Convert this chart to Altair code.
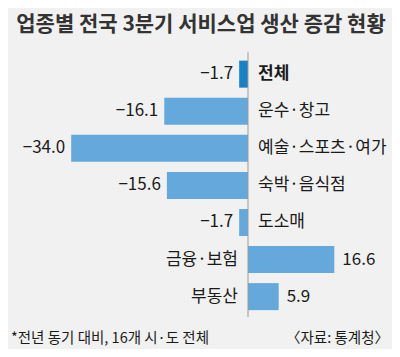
import altair as alt
import pandas as pd

categories = ["전체", "운수·창고", "예술·스포츠·여가", "숙박·음식점", "도소매", "금융·보험", "부동산"]
values = [-1.7, -16.1, -34.0, -15.6, -1.7, 16.6, 5.9]
highlight = [True, False, False, False, False, False, False]

title_text = "업종별 전국 3분기 서비스업 생산 증감 현황"
note_left = "*전년 동기 대비, 16개 시·도 전체"
note_right = "〈자료: 통계청〉"

df = pd.DataFrame({
    "cat": categories,
    "val": values,
    "idx": list(range(len(categories))),
    "hi": highlight,
})
df["label"] = [("−" if v < 0 else "") + f"{abs(v):.1f}" for v in values]

W, H = 384, 341
FONT = "Noto Sans CJK KR"
px_per_unit = 5.2
zero_x = 240
xdom = [-zero_x / px_per_unit, (W - zero_x) / px_per_unit]
row = 38.2
y0 = -63 / row
ydom = [y0, y0 + H / row]

xs = alt.Scale(domain=xdom, nice=False, zero=False)
ys = alt.Scale(domain=ydom, nice=False, zero=False, reverse=True)

base = alt.Chart(df)

bars = base.mark_bar(size=27).encode(
    x=alt.X("val:Q", scale=xs, axis=None),
    x2=alt.datum(0),
    y=alt.Y("idx:Q", scale=ys, axis=None),
    color=alt.Color("hi:N", scale=alt.Scale(domain=[True, False], range=["#1a82c4", "#65a8db"]), legend=None),
)

zero_line = alt.Chart(pd.DataFrame({"z": [0], "a": [-0.6], "b": [6.55]})).mark_rule(color="#999999", strokeWidth=1).encode(
    x=alt.X("z:Q", scale=xs, axis=None),
    y=alt.Y("a:Q", scale=ys, axis=None),
    y2="b:Q",
)

txt = dict(font=FONT, fontSize=17, color="#1a1a1a", baseline="middle")

neg_val = base.transform_filter("datum.val < 0").mark_text(align="right", dx=-6, **txt).encode(
    x=alt.X("val:Q", scale=xs, axis=None), y=alt.Y("idx:Q", scale=ys, axis=None), text="label:N")
pos_val = base.transform_filter("datum.val >= 0").mark_text(align="left", dx=8, **txt).encode(
    x=alt.X("val:Q", scale=xs, axis=None), y=alt.Y("idx:Q", scale=ys, axis=None), text="label:N")
neg_cat = base.transform_filter("datum.val < 0 && !datum.hi").mark_text(align="left", dx=10, **txt).encode(
    x=alt.datum(0, scale=xs), y=alt.Y("idx:Q", scale=ys, axis=None), text="cat:N")
hi_cat = base.transform_filter("datum.hi").mark_text(align="left", dx=10, fontWeight="bold", **txt).encode(
    x=alt.datum(0, scale=xs), y=alt.Y("idx:Q", scale=ys, axis=None), text="cat:N")
pos_cat = base.transform_filter("datum.val >= 0").mark_text(align="right", dx=-10, **txt).encode(
    x=alt.datum(0, scale=xs), y=alt.Y("idx:Q", scale=ys, axis=None), text="cat:N")

title = alt.Chart(pd.DataFrame({"t": [title_text]})).mark_text(
    font=FONT, fontSize=21, fontWeight="bold", color="#333333", align="center", baseline="middle"
).encode(x=alt.value(193), y=alt.value(17), text="t:N")

notes_l = alt.Chart(pd.DataFrame({"t": [note_left]})).mark_text(
    font=FONT, fontSize=14.5, color="#1a1a1a", align="left", baseline="middle"
).encode(x=alt.value(3), y=alt.value(331), text="t:N")
notes_r = alt.Chart(pd.DataFrame({"t": [note_right]})).mark_text(
    font=FONT, fontSize=14.5, color="#1a1a1a", align="right", baseline="middle"
).encode(x=alt.value(W - 3), y=alt.value(331), text="t:N")

chart = alt.layer(bars, zero_line, neg_val, pos_val, neg_cat, hi_cat, pos_cat, title, notes_l, notes_r).properties(
    width=W, height=H, padding=0, autosize=alt.AutoSizeParams(type="none"), background="#f1f1f1"
).configure_view(stroke=None)

chart.save("out.html", embed_options={"renderer": "svg", "actions": False})
